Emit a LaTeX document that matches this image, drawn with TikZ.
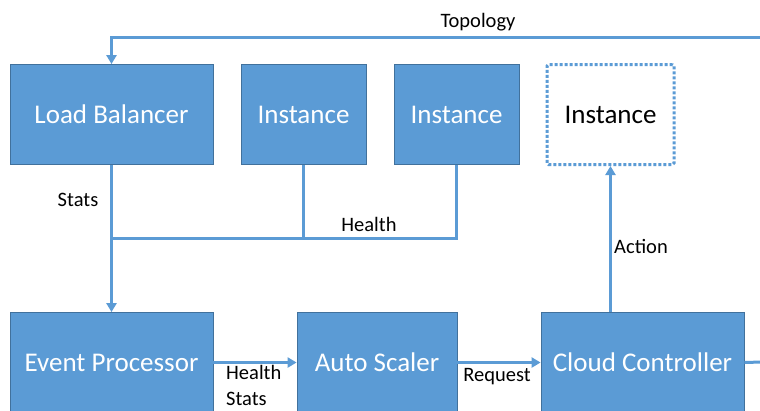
\documentclass[tikz,border=0pt]{standalone}
\usepackage{fontspec}
\setmainfont{Carlito}
\usetikzlibrary{arrows.meta}
\definecolor{boxblue}{HTML}{5B9BD5}
\definecolor{boxedge}{HTML}{41719C}
\tikzset{
  blk/.style={draw=boxedge, line width=0.8pt, fill=boxblue, text=white, minimum height=100pt, inner sep=0pt, font=\fontsize{27}{32}\selectfont},
  ghost/.style={draw=boxblue, line width=3pt, dash pattern=on 3pt off 2pt, rounded corners=1.5pt, fill=white, text=black, minimum height=100pt, inner sep=0pt, font=\fontsize{27}{32}\selectfont},
  wire/.style={draw=boxblue, line width=3pt},
  arr/.style={wire, -{Triangle[length=9pt,width=10pt]}},
  lbl/.style={text=black, inner sep=0pt, font=\fontsize{20.5}{26}\selectfont}
}
\begin{document}
\begin{tikzpicture}[x=1pt,y=-1pt]
\path[use as bounding box] (0,0) rectangle (760,410);
\begin{scope}
\clip (0,0) rectangle (760,410);
% nodes
\node[blk, minimum width=203pt] (lb) at (111.5,114.5) {Load Balancer};
\node[blk, minimum width=125pt] (i1) at (303.5,114.5) {Instance};
\node[blk, minimum width=125pt] (i2) at (456.5,114.5) {Instance};
\node[ghost, minimum width=127pt] (i3) at (610.5,114.5) {Instance};
\node[blk, minimum width=203pt] (ep) at (111.5,362.5) {Event Processor};
\node[blk, minimum width=160pt] (as) at (377,362.5) {Auto Scaler};
\node[blk, minimum width=203pt] (cc) at (642.5,362.5) {Cloud Controller};
% coordinates
\coordinate (topR) at (762,37);
\coordinate (topL) at (lb.north |- topR);
\coordinate (busL) at (111.5,238);
\coordinate (bus1) at (i1.south |- busL);
\coordinate (bus2) at (i2.south |- busL);
\coordinate (ccR) at (762,362);
\coordinate (ccA) at (i3.south |- cc.north);
% connectors
\draw[arr] (topR) -- (topL) -- (lb.north);
\draw[wire] (lb.south) -- (busL);
\draw[arr] (busL) -- (ep.north);
\draw[wire] (i1.south) -- (bus1);
\draw[wire] (i2.south) -- (bus2) -- (busL);
\draw[arr] (ep.east) -- (as.west);
\draw[arr] (as.east) -- (cc.west);
\draw[wire] (cc.east) -- (ccR);
\draw[arr] (ccA) -- (i3.south);
% labels
\node[lbl] (tTop) at (478,22) {Topology};
\node[lbl] (tStats) at (78,200) {Stats};
\node[lbl] (tHealth) at (369,224) {Health};
\node[lbl, align=left, anchor=north west] (tHS) at (226,365) {Health\\Stats};
\node[lbl] (tReq) at (497,376.5) {Request};
\node[lbl] (tAct) at (641,246) {Action};
\end{scope}
\end{tikzpicture}
\end{document}
